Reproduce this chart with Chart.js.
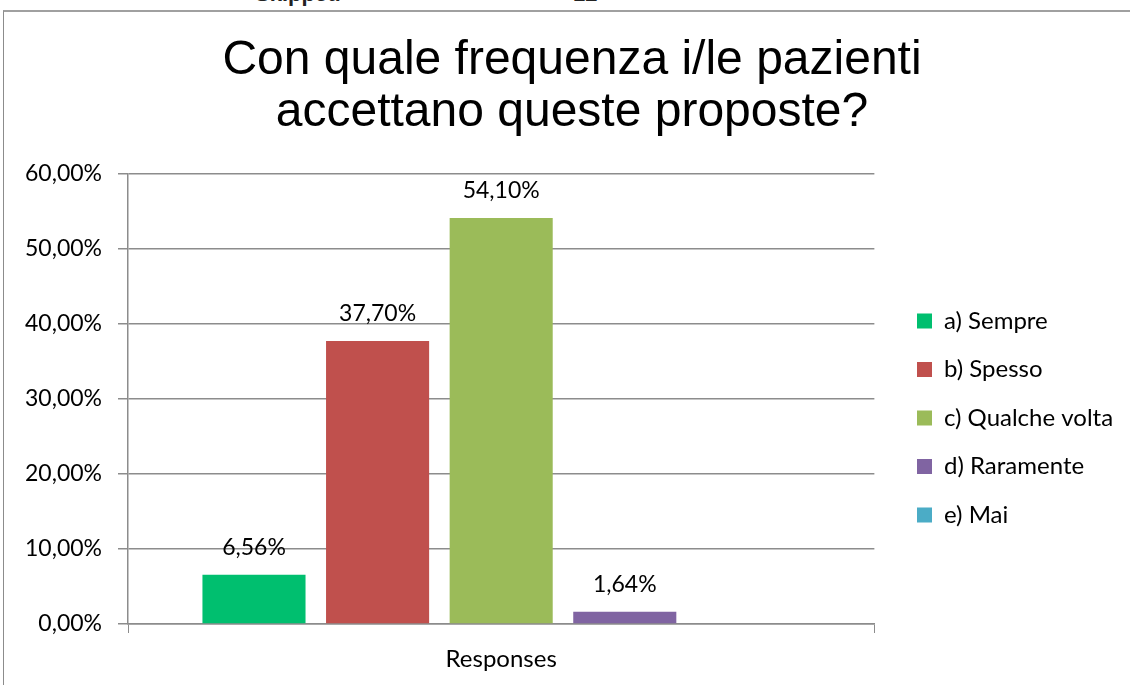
<!DOCTYPE html>
<html>
<head>
<meta charset="utf-8">
<script src="https://cdn.jsdelivr.net/npm/chart.js@4.4.1/dist/chart.umd.min.js"></script>
<style>
  html, body { margin: 0; padding: 0; background: #fff; overflow: hidden; width: 1130px; height: 685px; }
  #frame { position: absolute; left: 3px; top: 10px; width: 1200px; height: 800px; border-left: 1px solid #8c8c8c; border-top: 2px solid #a0a0a0; }
  #wrap { position: absolute; left: 0; top: 0; width: 1130px; height: 685px; }
  .skip { position: absolute; top: -19px; font: bold 22px "Liberation Sans", Arial, sans-serif; color: #222; }
</style>
</head>
<body>
<div class="skip" style="left:255px;">Skipped</div>
<div class="skip" style="left:573px;">12</div>
<div id="frame"></div>
<div id="wrap"><canvas id="c" width="1130" height="685"></canvas></div>
<script>
const titleLines = ["Con quale frequenza i/le pazienti", "accettano queste proposte?"];
const categories = ["Responses"];
const seriesNames = ["a) Sempre", "b) Spesso", "c) Qualche volta", "d) Raramente", "e) Mai"];
const seriesValues = [6.56, 37.70, 54.10, 1.64, 0];
const seriesColors = ["#00BF6F", "#C0504D", "#9BBB59", "#8064A2", "#4BACC6"];
const yTicks = [0, 10, 20, 30, 40, 50, 60];

const fmt = v => v.toFixed(2).replace('.', ',') + '%';
const FONT = 'Lato, "Noto Sans", sans-serif';

const valueLabels = {
  id: 'valueLabels',
  afterDatasetsDraw(chart) {
    const ctx = chart.ctx;
    ctx.save();
    ctx.font = '23px ' + FONT;
    ctx.fillStyle = '#000';
    ctx.textAlign = 'center';
    ctx.textBaseline = 'middle';
    chart.data.datasets.forEach((ds, i) => {
      const meta = chart.getDatasetMeta(i);
      meta.data.forEach((bar, j) => {
        const v = ds.data[j];
        if (!v) return;
        ctx.fillText(fmt(v), bar.x, bar.y - 27);
      });
    });
    ctx.restore();
  }
};

const boxShift = {
  id: 'boxShift',
  afterLayout(chart) {
    const lg = chart.legend;
    if (lg) {
      const dx = 917 - (lg.left + lg.options.labels.padding);
      const dy = 418 - (lg.top + lg.bottom) / 2;
      lg.left += dx; lg.right += dx;
      lg.top += dy; lg.bottom += dy;
      (lg.legendHitBoxes || []).forEach(h => { h.left += dx; h.top += dy; });
    }
    const tb = chart.titleBlock;
    if (tb) {
      const tx = 572 - (tb.left + tb.right) / 2;
      tb.left += tx; tb.right += tx;
    }
  }
};

new Chart(document.getElementById('c'), {
  type: 'bar',
  data: {
    labels: categories,
    datasets: seriesNames.map((n, i) => ({
      label: n,
      data: [seriesValues[i]],
      backgroundColor: seriesColors[i],
      borderWidth: 0,
      categoryPercentage: 0.828,
      barPercentage: 0.834
    }))
  },
  options: {
    responsive: false,
    animation: false,
    layout: { padding: { left: 14, top: 0, right: 25, bottom: 0 } },
    plugins: {
      title: {
        display: true,
        text: titleLines,
        color: '#000',
        font: { family: '"Liberation Sans", Arial, sans-serif', size: 48, weight: 'normal', lineHeight: 1.1 },
        padding: { top: 34, bottom: 34 }
      },
      legend: {
        position: 'right',
        align: 'center',
        labels: {
          color: '#000',
          font: { family: FONT, size: 24 },
          boxWidth: 15,
          boxHeight: 15,
          padding: 24.5
        }
      },
      tooltip: { enabled: false }
    },
    scales: {
      x: {
        grid: { display: true, drawOnChartArea: false, drawTicks: true, tickLength: 9, color: '#8c8c8c', offset: true },
        border: { display: true, color: '#8c8c8c', width: 1.5 },
        ticks: { color: '#000', font: { family: FONT, size: 24 }, padding: 12 },
        afterFit: s => { s.height = 61; }
      },
      y: {
        min: 0, max: 60,
        afterBuildTicks: s => { s.ticks = yTicks.map(v => ({ value: v })); },
        grid: { color: '#8c8c8c', lineWidth: 1.5, tickLength: 10 },
        border: { display: true, color: '#8c8c8c', width: 1.5 },
        ticks: { color: '#000', font: { family: FONT, size: 23 }, padding: 16, callback: v => fmt(v) },
        afterFit: s => { s.width = 114; }
      }
    }
  },
  plugins: [valueLabels, boxShift]
});
</script>
</body>
</html>
